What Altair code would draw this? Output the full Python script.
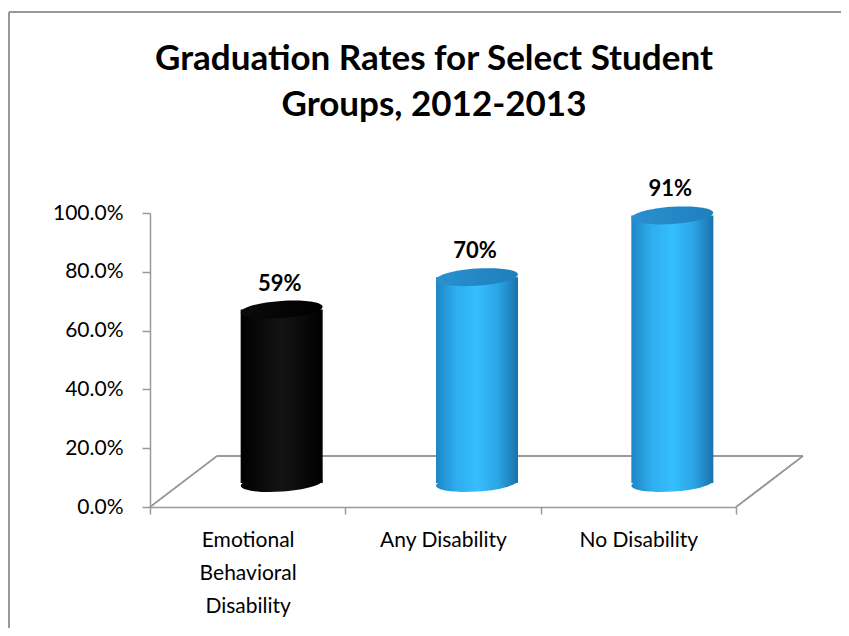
import altair as alt
import pandas as pd

categories = ["Emotional Behavioral Disability", "Any Disability", "No Disability"]
values = [0.59, 0.70, 0.91]
value_labels = ["59%", "70%", "91%"]
groups = ["ebd", "any", "none"]
y_ticks = [0, 0.2, 0.4, 0.6, 0.8, 1.0]
title_lines = ["Graduation Rates for Select Student", "Groups, 2012-2013"]

df = pd.DataFrame({"cat": categories, "value": values, "label": value_labels,
                   "grp": groups, "base": [0.0] * len(values)})
title_df = pd.DataFrame({"line": ["\n".join(title_lines)]})

FONT = "Lato"
W, H = 586, 294
DX, DY = 34, -24          # depth offset of the cylinders
CW = 82                   # cylinder diameter
ELLIPSE = "M -1 0 A 1 0.21 0 1 1 1 0 A 1 0.21 0 1 1 -1 0 Z"

x_enc = alt.X("cat:N", sort=categories,
              scale=alt.Scale(paddingInner=0, paddingOuter=0),
              axis=alt.Axis(title=None, tickBand="extent", labelAngle=0,
                            labelExpr="datum.label == 'Emotional Behavioral Disability' ? split(datum.label, ' ') : datum.label",
                            labelFont=FONT, labelFontSize=21, labelColor="#000",
                            labelLimit=400, labelLineHeight=33, labelPadding=15,
                            labelBaseline="top",
                            domainColor="#9a9a9a", domainWidth=1.5,
                            tickColor="#9a9a9a", tickWidth=1.5, tickSize=7))
y_scale = alt.Scale(domain=[0, 1])


def grad(stops):
    return alt.LinearGradient(gradient="linear", x1=0, x2=1, y1=0, y2=0,
                              stops=[alt.GradientStop(offset=o, color=c) for o, c in stops])


blue_body = grad([(0, "#1f86c6"), (0.25, "#2eaeee"), (0.5, "#35beff"),
                  (0.75, "#2ba6e6"), (1, "#1a72ac")])
black_body = grad([(0, "#000000"), (0.5, "#141414"), (1, "#000000")])
blue_top = grad([(0, "#2a90cf"), (1, "#1f7fbd")])
black_top = grad([(0, "#0a0a0a"), (1, "#000000")])


def cylinder(grp, body, top):
    src = alt.Chart(df).transform_filter(alt.datum.grp == grp)
    bottom = src.mark_point(shape=ELLIPSE, size=CW * CW, filled=True, opacity=1,
                            fill=body, strokeWidth=0, xOffset=DX, yOffset=DY,
                            angle=356).encode(
        x=x_enc, y=alt.Y("base:Q", scale=y_scale))
    bar = src.mark_bar(size=CW, fill=body, xOffset=DX, yOffset=DY, y2Offset=DY).encode(
        x=x_enc, y=alt.Y("value:Q", scale=y_scale), y2="base:Q")
    cap = src.mark_point(shape=ELLIPSE, size=CW * CW, filled=True, opacity=1,
                         fill=top, strokeWidth=0, xOffset=DX, yOffset=DY,
                         angle=356).encode(
        x=x_enc, y=alt.Y("value:Q", scale=y_scale))
    return [bottom, bar, cap]


base = alt.Chart(df)

yaxis = base.mark_point(opacity=0).encode(
    x=x_enc,
    y=alt.Y("value:Q", scale=y_scale,
            axis=alt.Axis(title=None, values=y_ticks, format=".1%", grid=False,
                          labelFont=FONT, labelFontSize=21, labelColor="#000",
                          labelPadding=19, domainColor="#9a9a9a", domainWidth=1.5,
                          tickColor="#9a9a9a", tickWidth=1.5, tickSize=8)))

rule_style = dict(color="#9a9a9a", strokeWidth=1.5)
floor_back = base.mark_rule(**rule_style).encode(
    x=alt.value(67), x2=alt.value(653), y=alt.value(243), y2=alt.value(243))
floor_left = base.mark_rule(**rule_style).encode(
    x=alt.value(0), x2=alt.value(67), y=alt.value(294), y2=alt.value(243))
floor_right = base.mark_rule(**rule_style).encode(
    x=alt.value(586), x2=alt.value(653), y=alt.value(294), y2=alt.value(243))

border_style = dict(color="#999999", strokeWidth=2)
border_left = base.mark_rule(**border_style).encode(
    x=alt.value(-141), y=alt.value(-201), y2=alt.value(460))
border_top = base.mark_rule(**border_style).encode(
    x=alt.value(-141), x2=alt.value(720), y=alt.value(-201))

labels = base.mark_text(font=FONT, fontSize=22, fontWeight="bold", color="#000",
                        baseline="bottom", xOffset=DX - 2, yOffset=DY - 14).encode(
    x=x_enc, y=alt.Y("value:Q", scale=y_scale), text="label:N")

title = alt.Chart(title_df).mark_text(
    font=FONT, fontSize=35, fontWeight="bold", color="#000",
    align="center", baseline="alphabetic", lineBreak="\n", lineHeight=46).encode(
    x=alt.value(284), y=alt.value(-143), text="line:N")

layers = [border_left, border_top, floor_back, floor_left, floor_right, yaxis]
layers += cylinder("ebd", black_body, black_top)
layers += cylinder("any", blue_body, blue_top)
layers += cylinder("none", blue_body, blue_top)
layers += [labels, title]

chart = alt.layer(*layers).properties(
    width=W, height=H,
    autosize=alt.AutoSizeParams(type="none"),
    padding={"left": 142, "top": 205, "right": 105, "bottom": 121},
).configure_view(stroke=None)

chart.save("out.html", embed_options={"renderer": "svg", "actions": False})
